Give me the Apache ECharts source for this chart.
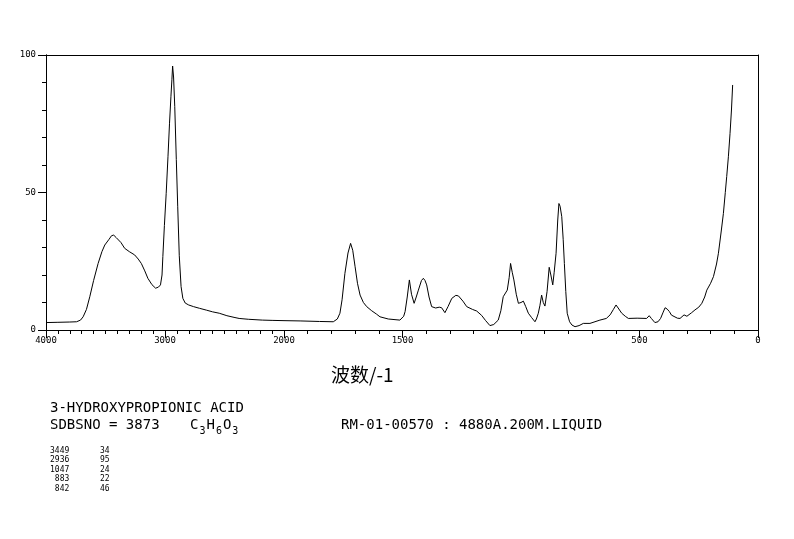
<!DOCTYPE html>
<html>
<head>
<meta charset="utf-8">
<script src="https://cdn.jsdelivr.net/npm/echarts@6/dist/echarts.min.js"></script>
<style>
html,body{margin:0;padding:0;background:#fff;}
#chart{width:794px;height:539px;}
</style>
</head>
<body>
<div id="chart"></div>
<script>
// ---- data ----
var wavenumbers = [4000,3900,3800,3743,3710,3688,3660,3632,3600,3562,3530,3506,3470,3449,3431,3410,3395,3370,3339,3300,3255,3225,3199,3170,3144,3110,3079,3055,3038,3025,3018,3005,2990,2975,2962,2950,2942,2936,2928,2918,2905,2893,2880,2865,2850,2830,2801,2760,2711,2650,2600,2544,2480,2420,2377,2300,2182,2100,2000,1932,1850,1792,1775,1764,1755,1743,1730,1719,1710,1700,1690,1679,1665,1651,1630,1610,1595,1560,1511,1495,1489,1480,1471,1462,1451,1442,1433,1420,1412,1405,1398,1388,1377,1360,1345,1335,1321,1308,1292,1275,1264,1245,1229,1205,1187,1166,1150,1131,1115,1096,1085,1075,1058,1050,1044,1037,1030,1020,1011,1000,990,980,969,955,941,935,927,920,913,906,899,890,881,874,866,860,852,845,840,835,828,822,817,811,805,795,785,772,755,737,709,667,640,624,610,599,590,575,560,547,510,470,459,450,435,422,411,400,392,383,374,365,357,340,329,312,300,294,280,266,250,237,225,216,200,188,175,167,155,146,138,132,125,118,112,107];
var transmittance = [2.7,2.8,2.9,3.0,3.6,4.8,7.5,12.1,18.0,24.2,28.5,30.9,33.0,34.3,34.5,33.6,33.7,31.8,29.7,28.5,27.3,25.8,24.2,21.5,18.8,16.5,15.2,15.6,16.4,20.0,26.7,38,49.7,63,75.2,85,91,96,92,81.2,62,44.8,27,15.8,11.5,9.8,9.1,8.5,7.9,7.2,6.6,6.1,5.2,4.6,4.2,3.9,3.6,3.5,3.4,3.3,3.1,3.0,4.0,6.1,11,20.6,28,31.5,29,23.0,17,12.7,10,8.5,7,5.8,4.8,4.0,3.6,5.0,6.7,12,18.2,13,9.7,12,14.5,18,18.8,18,16.4,12,8.5,8,8.3,8.1,6.3,8.5,11.5,12.6,12.4,10.5,8.5,7.5,6.9,5.3,3.5,1.6,2.0,3.6,7,12.1,14.5,19,24.2,21,18.2,13,9.7,10,10.5,8.5,6.1,4.5,3.0,4,6.1,9,12.7,10,8.7,14,22.8,20,16.4,21,27.9,40,46,45,41.2,33,24.2,14,6.1,3.0,1.8,1.2,1.6,2.4,2.4,3.6,4.2,5.5,7.5,9.1,8.0,6.1,5.0,4.2,4.3,4.2,5.2,4.2,2.7,3.0,4.2,6.5,8.1,7.6,6.7,5.4,4.8,4.3,4.2,5.5,5.0,4.8,6.3,7.3,8.3,9.7,12.0,14.5,17.0,19.4,24,27.9,36,42.4,50,55.8,63,71.5,80,89.1];

var xTicksHigh = [4000, 3000, 2000];   // labelled ticks, high-wavenumber panel
var xTicksLow = [2000, 1500, 500, 0];  // labelled ticks, low-wavenumber panel
var yTicks = [0, 50, 100];

var compoundName = '3-HYDROXYPROPIONIC ACID';
var sdbsLine = 'SDBSNO = 3873';
var formulaParts = [['C', '3'], ['H', '6'], ['O', '3']];
var sampleLine = 'RM-01-00570 : 4880A.200M.LIQUID';
var axisTitle = '\u6ce2\u6570/-1';
var peakWn = [3449, 2936, 1047, 883, 842];
var peakT = [34, 95, 24, 22, 46];

// ---- build ----
var highData = [], lowData = [];
for (var i = 0; i < wavenumbers.length; i++) {
  if (wavenumbers[i] >= 2000) highData.push([wavenumbers[i], transmittance[i]]);
  if (wavenumbers[i] <= 2000) lowData.push([wavenumbers[i], transmittance[i]]);
}
var col1 = peakWn.map(function (v) { return String(v).padStart(4, ' '); }).join('\n');
var col2 = peakT.map(function (v) { return String(v).padStart(2, ' '); }).join('\n');
var formulaRich = formulaParts.map(function (p) { return '{n|' + p[0] + '}{s|' + p[1] + '}'; }).join('');

var FONT = 'DejaVu Sans Mono';
var black = '#000';
var lineStyle = { color: black, width: 1 };
var plain = function (v) { return String(v); };

function baseX(grid, min, max, extra) {
  var o = {
    type: 'value', gridIndex: grid, min: min, max: max, inverse: true,
    position: 'bottom',
    axisLine: { show: true, onZero: false, lineStyle: lineStyle },
    axisTick: { show: false },
    axisLabel: { show: false },
    splitLine: { show: false }
  };
  for (var k in extra) o[k] = extra[k];
  return o;
}
function baseY(grid, extra) {
  var o = {
    type: 'value', gridIndex: grid, min: 0, max: 100, position: 'left',
    axisLine: { show: true, onZero: false, lineStyle: lineStyle },
    axisTick: { show: false },
    axisLabel: { show: false },
    splitLine: { show: false }
  };
  for (var k in extra) o[k] = extra[k];
  return o;
}
var axisFont = { fontFamily: FONT, fontSize: 9, color: black, formatter: plain };
var textFont = { fontFamily: FONT, fontSize: 14, fontWeight: 'normal', color: black };

var option = {
  backgroundColor: '#fff',
  animation: false,
  grid: [
    { left: 46, top: 55, width: 238, height: 275 },
    { left: 284, top: 55, width: 474, height: 275 }
  ],
  xAxis: [
    baseX(0, 2000, 4000, { interval: 100, axisTick: { show: true, length: 4, lineStyle: lineStyle } }),
    baseX(0, 2000, 4000, {
      axisTick: { show: true, length: 8, customValues: xTicksHigh, lineStyle: lineStyle },
      axisLabel: Object.assign({ show: true, margin: 6, customValues: xTicksHigh.filter(function (v) { return v !== 2000; }) }, axisFont)
    }),
    baseX(0, 2000, 4000, { position: 'top' }),
    baseX(1, 0, 2000, { interval: 100, axisTick: { show: true, length: 4, lineStyle: lineStyle } }),
    baseX(1, 0, 2000, {
      axisTick: { show: true, length: 8, customValues: xTicksLow, lineStyle: lineStyle },
      axisLabel: Object.assign({ show: true, margin: 6, customValues: xTicksLow }, axisFont)
    }),
    baseX(1, 0, 2000, { position: 'top' })
  ],
  yAxis: [
    baseY(0, { interval: 10, axisTick: { show: true, length: 4, lineStyle: lineStyle } }),
    baseY(0, {
      axisTick: { show: true, length: 8, customValues: yTicks, lineStyle: lineStyle },
      axisLabel: Object.assign({ show: true, margin: 10, customValues: yTicks }, axisFont)
    }),
    baseY(1, { position: 'right' })
  ],
  series: [
    { type: 'line', xAxisIndex: 0, yAxisIndex: 0, data: highData, showSymbol: false, symbol: 'none', lineStyle: lineStyle, clip: true },
    { type: 'line', xAxisIndex: 3, yAxisIndex: 2, data: lowData, showSymbol: false, symbol: 'none', lineStyle: lineStyle, clip: true }
  ],
  title: [
    { text: axisTitle, left: 331, top: 365, padding: 0, textStyle: { fontFamily: 'Noto Sans CJK SC', fontSize: 19, fontWeight: 'normal', color: black } },
    { text: compoundName, left: 50, top: 401, padding: 0, textStyle: textFont },
    { text: sdbsLine, left: 50, top: 418, padding: 0, textStyle: textFont },
    { text: formulaRich, left: 190, top: 418, padding: 0, textStyle: {
        fontFamily: FONT, fontSize: 14, fontWeight: 'normal', color: black,
        rich: {
          n: { fontFamily: FONT, fontSize: 14, fontWeight: 'normal', color: black, lineHeight: 18, verticalAlign: 'top' },
          s: { fontFamily: FONT, fontSize: 10, fontWeight: 'normal', color: black, lineHeight: 18, verticalAlign: 'bottom', padding: [0, 1, 0, 1] }
        } } },
    { text: sampleLine, left: 341, top: 418, padding: 0, textStyle: textFont },
    { text: col1, left: 50, top: 446, padding: 0, textStyle: { fontFamily: FONT, fontSize: 8, lineHeight: 9.5, fontWeight: 'normal', color: black } },
    { text: col2, left: 100, top: 446, padding: 0, textStyle: { fontFamily: FONT, fontSize: 8, lineHeight: 9.5, fontWeight: 'normal', color: black } }
  ]
};
var chart = echarts.init(document.getElementById('chart'), null, { renderer: 'canvas' });
chart.setOption(option);
</script>
</body>
</html>
